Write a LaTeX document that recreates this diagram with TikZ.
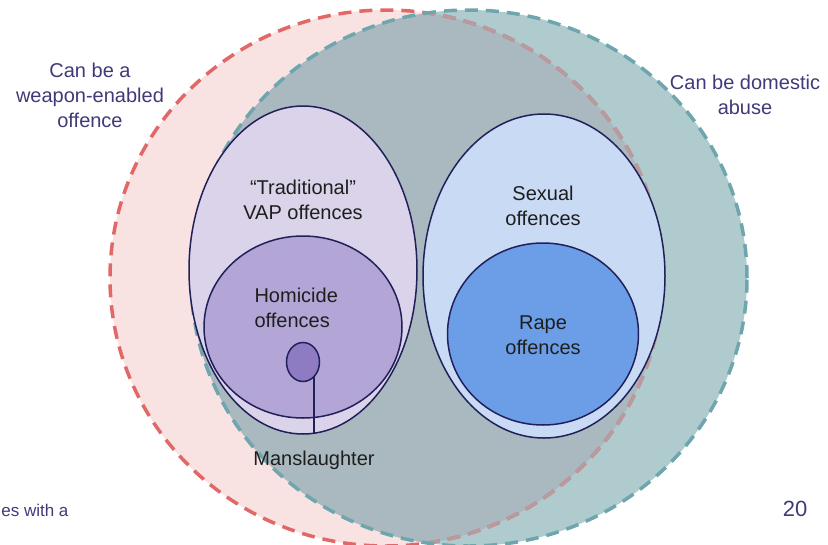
\documentclass[tikz,border=0pt]{standalone}
\usepackage{fontspec}
\setmainfont{Liberation Sans}
\usetikzlibrary{shapes.geometric}
\definecolor{pinkfill}{HTML}{F8E2E2}
\definecolor{tealfill}{HTML}{AFCBCE}
\definecolor{overlapfill}{HTML}{A9B9BF}
\definecolor{reddash}{HTML}{E26868}
\definecolor{tealdash}{HTML}{6FA6AE}
\definecolor{mutedred}{HTML}{B79B9F}
\definecolor{vapfill}{HTML}{DBD3E9}
\definecolor{homfill}{HTML}{B3A6D6}
\definecolor{manfill}{HTML}{8E7BC1}
\definecolor{sexfill}{HTML}{C9DAF5}
\definecolor{rapefill}{HTML}{6C9EE8}
\definecolor{outline}{HTML}{22205A}
\definecolor{labelcol}{HTML}{3F3A78}
\definecolor{innertext}{HTML}{1E1E1E}
\tikzset{
  setbox/.style={ellipse, draw=outline, line width=1.5pt, inner sep=0pt},
  dashline/.style={line width=3.5pt, dash pattern=on 13pt off 8pt},
  outerlabel/.style={text=labelcol, font=\fontsize{20}{25}\selectfont, align=center},
  innerlabel/.style={text=innertext, font=\fontsize{20}{25}\selectfont, align=center},
}
\begin{document}
\begin{tikzpicture}[x=1pt,y=-1pt]
\useasboundingbox (0,0) rectangle (828,544);
% big sets
\fill[pinkfill] (386,278) ellipse [x radius=276pt, y radius=268pt];
\fill[tealfill] (469,278) ellipse [x radius=278pt, y radius=268pt];
\begin{scope}
  \clip (469,278) ellipse [x radius=278pt, y radius=268pt];
  \fill[overlapfill] (386,278) ellipse [x radius=276pt, y radius=268pt];
\end{scope}
\draw[reddash, dashline] (386,278) ellipse [x radius=276pt, y radius=268pt];
\begin{scope}
  \clip (469,278) ellipse [x radius=278pt, y radius=268pt];
  \draw[mutedred, dashline] (386,278) ellipse [x radius=276pt, y radius=268pt];
\end{scope}
\draw[tealdash, dashline] (469,278) ellipse [x radius=278pt, y radius=268pt];
% inner sets
\node[setbox, fill=vapfill, minimum width=228pt, minimum height=328pt] (vap) at (303,270) {};
\node[setbox, fill=homfill, minimum width=198pt, minimum height=182pt] (hom) at (303,327) {};
\node[setbox, fill=manfill, minimum width=33pt, minimum height=39pt] (man) at (303,362) {};
\node[setbox, fill=sexfill, minimum width=242pt, minimum height=324pt] (sex) at (544,276) {};
\node[setbox, fill=rapefill, minimum width=191pt, minimum height=182pt] (rape) at (543,334) {};
\coordinate (manfoot) at (man.-54 |- vap.south);
\draw[outline, line width=1.5pt] (man.-54) -- ([yshift=0.8pt]manfoot);
% labels
\node[outerlabel] (weapon) at (90,95) {Can be a\\weapon-enabled\\offence};
\node[outerlabel] (domestic) at (745,94.5) {Can be domestic\\abuse};
\node[innerlabel] (vaplab) at (303,199.5) {“Traditional”\\VAP offences};
\node[innerlabel, align=left, anchor=west] (homlab) at (251,308) {Homicide\\offences};
\node[innerlabel] (sexlab) at (543,205.5) {Sexual\\offences};
\node[innerlabel] (rapelab) at (543,335.5) {Rape\\offences};
\node[innerlabel] (manlab) at (314,460) {Manslaughter};
\node[outerlabel, anchor=east, font=\fontsize{17}{20}\selectfont] (note) at (72,510) {es with a};
\node[outerlabel, font=\fontsize{22}{26}\selectfont] (page) at (795,509) {20};
\end{tikzpicture}
\end{document}
